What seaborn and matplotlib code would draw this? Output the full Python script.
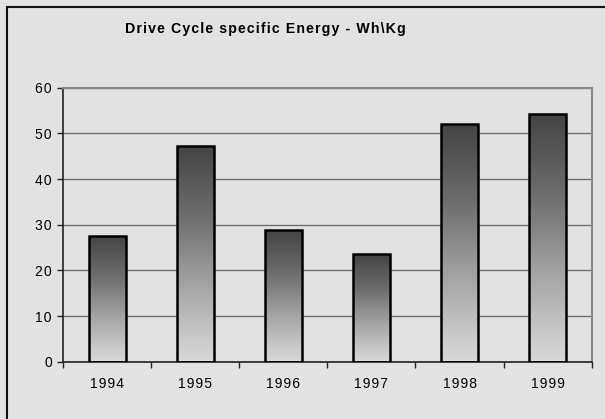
import numpy as np
import pandas as pd
import matplotlib
matplotlib.use("Agg")
import matplotlib.pyplot as plt
import seaborn as sns
from matplotlib.patches import Rectangle
from matplotlib.colors import LinearSegmentedColormap

years = ["1994", "1995", "1996", "1997", "1998", "1999"]
energy = [27.6, 47.3, 28.9, 23.6, 52.1, 54.3]
yticks = [0, 10, 20, 30, 40, 50, 60]
title = "Drive Cycle specific Energy - Wh\\Kg"

HS = "\u200a"


def spaced(s):
    return HS.join(s)


sns.set_theme(style="white")
plt.rcParams["font.family"] = ["Liberation Sans", "DejaVu Sans"]

BG = "#e2e2e2"
fig = plt.figure(figsize=(6.05, 4.19), dpi=100, facecolor=BG)
W, H = 605, 419
ax = fig.add_axes([63 / W, 1 - 361.7 / H, (591.7 - 63) / W, (361.7 - 87.7) / H])
ax.set_facecolor(BG)

df = pd.DataFrame({"year": years, "energy": energy})
sns.barplot(data=df, x="year", y="energy", ax=ax, width=0.42,
            color="#888888", edgecolor="black", linewidth=1.8, errorbar=None, zorder=3)

cmap = LinearSegmentedColormap.from_list("g", ["#d9d9d9", "#a8a8a8", "#6e6e6e", "#444444"])
grad = np.linspace(0, 1, 256).reshape(-1, 1)
for p in ax.patches:
    x0, y0 = p.get_x(), p.get_y()
    w, h = p.get_width(), p.get_height()
    p.set_facecolor("none")
    im = ax.imshow(grad, cmap=cmap, origin="lower", aspect="auto",
                   extent=(x0, x0 + w, y0, y0 + h), zorder=2.5, interpolation="bilinear")
    im.set_clip_path(p)

ax.set_xlim(-0.5, len(years) - 0.5)
ax.set_ylim(0, 60)
ax.set_yticks(yticks)
ax.set_yticklabels([spaced(str(v)) for v in yticks])
ax.set_xticks(range(len(years)))
ax.set_xticklabels([spaced(y) for y in years])
ax.set_xlabel("")
ax.set_ylabel("")
ax.yaxis.grid(True, color="#6f6f6f", linewidth=1.0, zorder=0)
ax.set_axisbelow(True)

ax.set_xticks(np.arange(len(years) + 1) - 0.5, minor=True)
ax.tick_params(axis="x", which="major", length=0, pad=11, labelsize=10, colors="#000000")
ax.tick_params(axis="x", which="minor", length=4, width=1, direction="out", bottom=True, color="#222222")
ax.tick_params(axis="y", which="major", length=4, width=1, direction="out", left=True,
               pad=4, labelsize=10, colors="#000000", color="#222222")

for side in ["left", "bottom"]:
    ax.spines[side].set_color("#222222")
    ax.spines[side].set_linewidth(1.2)
for side in ["top", "right"]:
    ax.spines[side].set_color("#8a8a8a")
    ax.spines[side].set_linewidth(1.5)

fig.text(265.5 / W, 1 - 29 / H, spaced(title), ha="center", va="center",
         fontsize=10.2, fontweight="bold", color="#000000")

border = Rectangle((7 / W, -0.1), 1.2, 1 - 7 / H + 0.1, transform=fig.transFigure,
                   fill=False, edgecolor="#111111", linewidth=1.5)
fig.patches.append(border)

fig.savefig("out.png", dpi=100, facecolor=BG)
